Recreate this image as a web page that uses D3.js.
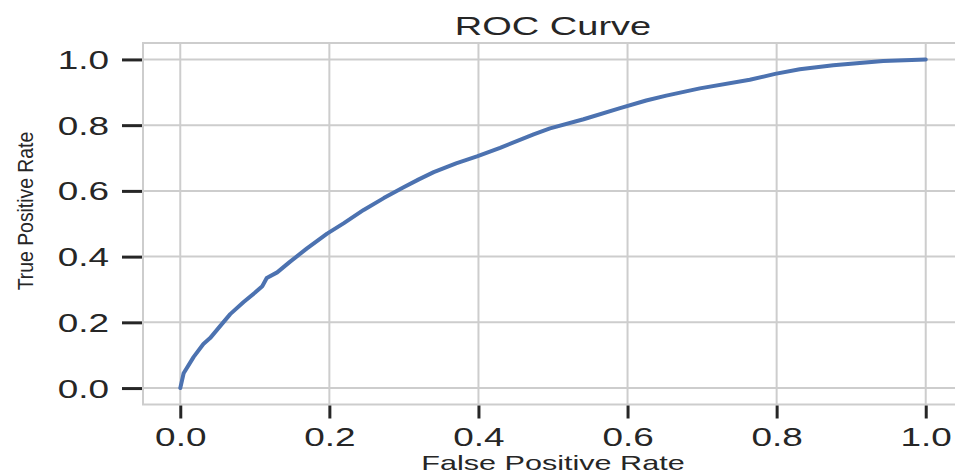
<!DOCTYPE html>
<html>
<head>
<meta charset="utf-8">
<script src="https://cdn.jsdelivr.net/npm/d3@7"></script>
<style>
  body { margin: 0; background: #fff; }
  text { font-family: "Liberation Sans", Arial, sans-serif; fill: #262626; }
</style>
</head>
<body>
<div id="roc"></div>
<script>
// ROC points
const fpr = [0, 0.0045, 0.018, 0.031, 0.040, 0.054, 0.067, 0.085, 0.100, 0.110, 0.116, 0.130,
  0.147, 0.170, 0.197, 0.219, 0.246, 0.273, 0.299, 0.320, 0.340, 0.370, 0.398, 0.429, 0.474, 0.496,
  0.541, 0.590, 0.625, 0.652, 0.697, 0.764, 0.798, 0.831, 0.876, 0.943, 1.0];
const tpr = [0, 0.045, 0.095, 0.134, 0.152, 0.190, 0.225, 0.262, 0.290, 0.310, 0.335, 0.352,
  0.384, 0.425, 0.470, 0.501, 0.542, 0.578, 0.610, 0.635, 0.657, 0.684, 0.705, 0.731, 0.772, 0.790,
  0.818, 0.852, 0.875, 0.890, 0.912, 0.938, 0.956, 0.970, 0.982, 0.995, 1.0];
const xTicks = [0, 0.2, 0.4, 0.6, 0.8, 1.0];
const yTicks = [0, 0.2, 0.4, 0.6, 0.8, 1.0];
const titleText = "ROC Curve";
const xLabelText = "False Positive Rate";
const yLabelText = "True Positive Rate";

const width = 955, height = 473;
const frame = { left: 143, right: 963, top: 43, bottom: 404.5 };

const svg = d3.select("#roc")
  .append("svg")
  .attr("width", width)
  .attr("height", height);

const x = d3.scaleLinear().domain([-0.05, 1.05]).range([frame.left, frame.right]);
const y = d3.scaleLinear().domain([-0.05, 1.05]).range([frame.bottom, frame.top]);

const gridColor = "#cdcdcd";

// grid
svg.selectAll("line.vgrid")
  .data(xTicks)
  .enter()
  .append("line")
  .attr("class", "vgrid")
  .attr("x1", d => x(d)).attr("x2", d => x(d))
  .attr("y1", frame.top).attr("y2", frame.bottom)
  .style("stroke", gridColor)
  .style("stroke-width", 2);

svg.selectAll("line.hgrid")
  .data(yTicks)
  .enter()
  .append("line")
  .attr("class", "hgrid")
  .attr("x1", frame.left).attr("x2", frame.right)
  .attr("y1", d => y(d)).attr("y2", d => y(d))
  .style("stroke", gridColor)
  .style("stroke-width", 2);

// frame
svg.append("rect")
  .attr("x", frame.left).attr("y", frame.top)
  .attr("width", frame.right - frame.left)
  .attr("height", frame.bottom - frame.top)
  .style("fill", "none")
  .style("stroke", gridColor)
  .style("stroke-width", 2);

// x axis
const xAxis = svg.append("g")
  .attr("transform", `translate(0,${frame.bottom + 1})`)
  .call(d3.axisBottom(x).tickValues(xTicks).tickSize(13).tickSizeOuter(0).tickFormat(d3.format(".1f")));
xAxis.select(".domain").remove();
xAxis.selectAll(".tick line").style("stroke", "#262626").style("stroke-width", 3);
xAxis.selectAll(".tick text")
  .attr("y", 0).attr("dy", null)
  .attr("transform", "translate(0,40) scale(1.42,1)")
  .style("font-size", "26px")
  .attr("text-anchor", "middle");

// y axis
const yAxis = svg.append("g")
  .attr("transform", `translate(${frame.left - 1},0)`)
  .call(d3.axisLeft(y).tickValues(yTicks).tickSize(20).tickSizeOuter(0).tickFormat(d3.format(".1f")));
yAxis.select(".domain").remove();
yAxis.selectAll(".tick line").style("stroke", "#262626").style("stroke-width", 3);
yAxis.selectAll(".tick text")
  .attr("x", 0).attr("dy", null)
  .attr("transform", "translate(-33,9) scale(1.42,1)")
  .style("font-size", "26px")
  .attr("text-anchor", "end");

// curve
const points = fpr.map((f, i) => [f, tpr[i]]);
svg.append("path")
  .datum(points)
  .attr("d", d3.line().x(d => x(d[0])).y(d => y(d[1])))
  .style("fill", "none")
  .style("stroke", "#4c72b0")
  .style("stroke-width", 4)
  .style("stroke-linejoin", "round")
  .style("stroke-linecap", "round");

// title and labels
svg.append("g")
  .attr("transform", `translate(${(frame.left + frame.right) / 2},35)`)
  .append("text")
  .attr("text-anchor", "middle")
  .attr("transform", "scale(1.52,1)")
  .style("font-size", "25px")
  .text(titleText);

svg.append("g")
  .attr("transform", `translate(${(frame.left + frame.right) / 2},470)`)
  .append("text")
  .attr("text-anchor", "middle")
  .attr("transform", "scale(1.53,1)")
  .style("font-size", "20px")
  .text(xLabelText);

svg.append("g")
  .attr("transform", "translate(33,211) rotate(-90)")
  .append("text")
  .attr("text-anchor", "middle")
  .attr("transform", "scale(0.88,1)")
  .style("font-size", "22px")
  .text(yLabelText);
</script>
</body>
</html>
